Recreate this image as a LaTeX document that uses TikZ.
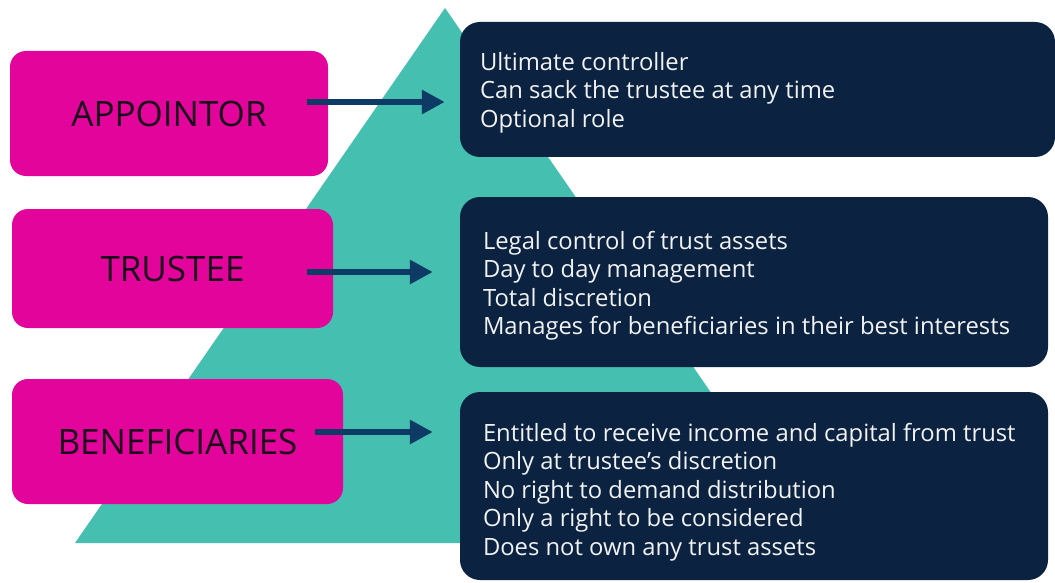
\documentclass[tikz,border=0pt]{standalone}
\usepackage{fontspec}
\setmainfont{Open Sans}
\usetikzlibrary{arrows.meta,calc}
\definecolor{teal1}{RGB}{69,191,176}
\definecolor{pinkbox}{RGB}{226,4,155}
\definecolor{navybox}{RGB}{11,35,64}
\definecolor{arrowblue}{RGB}{14,58,102}
\definecolor{roletext}{RGB}{27,10,27}
\definecolor{desctext}{RGB}{242,242,242}
\begin{document}
\begin{tikzpicture}[x=1pt,y=-1pt,
  role/.style={fill=pinkbox,rounded corners=16pt,inner sep=0pt,text=roletext,
    font=\fontsize{35}{40}\selectfont},
  descbox/.style={fill=navybox,rounded corners=20pt,inner sep=0pt},
  desctxt/.style={anchor=west,inner sep=0pt,text=desctext,align=left,
    font=\fontsize{23.8}{28.5}\selectfont},
  arr/.style={draw=arrowblue,line width=6pt,-{Triangle[length=23pt,width=23pt]}}]
\useasboundingbox (0,0) rectangle (1055,583);
\fill[teal1] (445,8) -- (815,543) -- (75,543) -- cycle;
% role boxes
\node[role,minimum width=318pt,minimum height=125pt] (a) at (169,113.5) {APPOINTOR};
\node[role,minimum width=321pt,minimum height=119pt] (t) at (172.5,268.5) {TRUSTEE};
\node[role,minimum width=331pt,minimum height=125pt] (b) at (177.5,441.5) {BENEFICIARIES};
% description boxes
\node[descbox,minimum width=595pt,minimum height=135pt] (ad) at (757.5,89.5) {};
\node[descbox,minimum width=588pt,minimum height=170pt] (td) at (754,282) {};
\node[descbox,minimum width=588pt,minimum height=188pt] (bd) at (754,486) {};
\node[desctxt] (adt) at ([xshift=20pt,yshift=-3pt]ad.west)
  {Ultimate controller\\Can sack the trustee at any time\\Optional role};
\node[desctxt] (tdt) at ([xshift=23pt,yshift=-4pt]td.west)
  {Legal control of trust assets\\Day to day management\\Total discretion\\Manages for beneficiaries in their best interests};
\node[desctxt] (bdt) at ([xshift=23pt,yshift=-6pt]bd.west)
  {Entitled to receive income and capital from trust\\Only at trustee’s discretion\\No right to demand distribution\\Only a right to be considered\\Does not own any trust assets};
% arrows
\draw[arr] ([xshift=-21pt,yshift=11.5pt]a.east) -- ([xshift=-15pt,yshift=11.5pt]a.east -| ad.west);
\draw[arr] ([xshift=-26pt,yshift=-3.5pt]t.east) -- ([xshift=-27pt,yshift=-3.5pt]t.east -| td.west);
\draw[arr] ([xshift=-28pt,yshift=9.5pt]b.east) -- ([xshift=-27pt,yshift=9.5pt]b.east -| bd.west);
\end{tikzpicture}
\end{document}
